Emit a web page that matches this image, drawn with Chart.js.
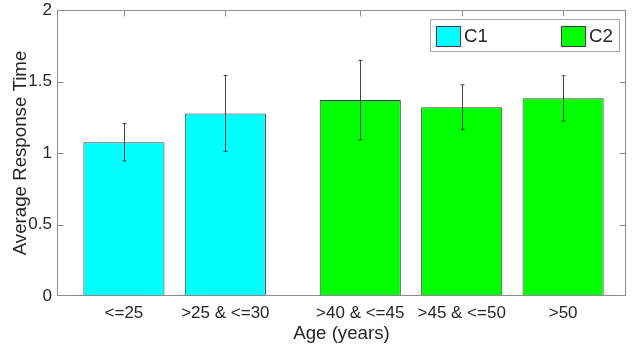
<!DOCTYPE html>
<html>
<head>
<meta charset="utf-8">
<script src="https://cdn.jsdelivr.net/npm/chart.js@4"></script>
<style>
  body { margin: 0; background: #fff; }
  #wrap { width: 632px; height: 345px; }
</style>
</head>
<body>
<div id="wrap"><canvas id="ageChart" width="632" height="345"></canvas></div>
<script>
'use strict';

// age groups, where each group sits on the x axis, and which condition it belongs to
const categories = ['<=25', '>25 & <=30', '>40 & <=45', '>45 & <=50', '>50'];
const groupPos = [1, 2, 3.33, 4.33, 5.33];
const groupOf = ['C1', 'C1', 'C2', 'C2', 'C2'];
const seriesNames = ['C1', 'C2'];
const meanTime = [1.075, 1.277, 1.370, 1.320, 1.382];
const errTime = [0.130, 0.265, 0.278, 0.157, 0.158];
const yTicks = [0, 0.5, 1, 1.5, 2];

const seriesColor = { C1: '#00ffff', C2: '#00ff00' };
const textColor = '#262626';
const frameColor = '#8c8c8c';

function seriesData(name) {
  let pts = [];
  for (let i = 0; i < categories.length; i++) {
    if (groupOf[i] === name) {
      pts.push({ x: groupPos[i], y: meanTime[i], err: errTime[i] });
    }
  }
  return pts;
}

// MATLAB style box + inward ticks
const boxPlugin = {
  id: 'boxPlugin',
  afterDatasetsDraw(chart) {
    const { ctx, chartArea: a, scales } = chart;
    const l = Math.round(a.left) + 0.5, r = Math.round(a.right) - 0.5;
    const t = Math.round(a.top) + 0.5, b = Math.round(a.bottom) - 0.5;
    ctx.save();
    ctx.strokeStyle = frameColor;
    ctx.lineWidth = 1;
    ctx.strokeRect(l, t, r - l, b - t);
    ctx.beginPath();
    scales.x.ticks.forEach(tk => {
      const px = Math.round(scales.x.getPixelForValue(tk.value)) + 0.5;
      ctx.moveTo(px, t);
      ctx.lineTo(px, t + 6);
    });
    scales.y.ticks.forEach(tk => {
      if (tk.value <= 0 || tk.value >= 2) return;
      const py = Math.round(scales.y.getPixelForValue(tk.value)) + 0.5;
      ctx.moveTo(l, py);
      ctx.lineTo(l + 6, py);
      ctx.moveTo(r, py);
      ctx.lineTo(r - 6, py);
    });
    ctx.stroke();
    ctx.restore();
  }
};

const errorBarPlugin = {
  id: 'errorBarPlugin',
  afterDatasetsDraw(chart) {
    const { ctx, scales } = chart;
    ctx.save();
    ctx.strokeStyle = 'rgba(40,40,40,0.85)';
    ctx.lineWidth = 1;
    chart.data.datasets.forEach((ds, d) => {
      const meta = chart.getDatasetMeta(d);
      meta.data.forEach((bar, i) => {
        const p = ds.data[i];
        const x = Math.round(bar.x) + 0.5;
        const yHi = scales.y.getPixelForValue(p.y + p.err);
        const yLo = scales.y.getPixelForValue(p.y - p.err);
        ctx.beginPath();
        ctx.moveTo(x, yHi);
        ctx.lineTo(x, yLo);
        ctx.moveTo(x - 2, yHi);
        ctx.lineTo(x + 2, yHi);
        ctx.moveTo(x - 2, yLo);
        ctx.lineTo(x + 2, yLo);
        ctx.stroke();
      });
    });
    ctx.restore();
  }
};

const boxLegend = {
  id: 'boxLegend',
  afterDraw(chart) {
    const { ctx, chartArea: a } = chart;
    const w = 190, h = 33;
    const left = Math.round(a.right) - 6 - w, top = Math.round(a.top) + 9;
    ctx.save();
    ctx.fillStyle = '#fff';
    ctx.fillRect(left, top, w, h);
    ctx.strokeStyle = '#a6a6a6';
    ctx.lineWidth = 1;
    ctx.strokeRect(left + 0.5, top + 0.5, w - 1, h - 1);
    ctx.font = '18.7px "Liberation Sans", Arial, sans-serif';
    ctx.textBaseline = 'middle';
    ctx.fillStyle = textColor;
    chart.data.datasets.forEach((ds, i) => {
      const sx = left + 6 + i * 125;
      ctx.fillStyle = ds.backgroundColor;
      ctx.fillRect(sx, top + 7, 25, 21);
      ctx.strokeStyle = '#404040';
      ctx.strokeRect(sx + 0.5, top + 7.5, 24, 20);
      ctx.fillStyle = textColor;
      ctx.fillText(ds.label, sx + 28, top + 18);
    });
    ctx.restore();
  }
};

function displayChart() {
  const chartConfig = {
    type: 'bar',
    data: {
      datasets: seriesNames.map(name => ({
        label: name,
        data: seriesData(name),
        backgroundColor: seriesColor[name],
        borderColor: '#404040',
        borderWidth: 1,
        categoryPercentage: 1,
        barPercentage: 0.8,
        grouped: false
      }))
    },
    options: {
      responsive: false,
      animation: false,
      layout: { padding: { top: 10, right: 6, left: 0, bottom: 0 } },
      plugins: {
        legend: { display: false },
        tooltip: { enabled: false }
      },
      scales: {
        x: {
          type: 'linear',
          min: 0.34,
          max: 5.95,
          offset: false,
          grid: { display: false, drawTicks: false },
          border: { display: false },
          afterBuildTicks: scale => {
            scale.ticks = groupPos.map(v => ({ value: v }));
          },
          afterFit: scale => {
            scale.height = 49;
            scale.paddingLeft = 0;
            scale.paddingRight = 0;
          },
          ticks: {
            autoSkip: false,
            maxRotation: 0,
            padding: 7,
            color: textColor,
            font: { family: '"Liberation Sans", Arial, sans-serif', size: 17 },
            callback: (value, index) => categories[index]
          },
          title: {
            display: true,
            text: 'Age (years)',
            color: textColor,
            padding: { top: 0, bottom: 0 },
            font: { family: '"Liberation Sans", Arial, sans-serif', size: 18.7 }
          }
        },
        y: {
          min: 0,
          max: 2,
          grid: { display: false, drawTicks: false },
          border: { display: false },
          afterBuildTicks: scale => {
            scale.ticks = yTicks.map(v => ({ value: v }));
          },
          afterFit: scale => {
            scale.width = 57;
            scale.paddingTop = 0;
            scale.paddingBottom = 0;
          },
          ticks: {
            padding: 5,
            color: textColor,
            font: { family: '"Liberation Sans", Arial, sans-serif', size: 17 },
            callback: value => String(value)
          },
          title: {
            display: true,
            text: 'Average Response Time',
            color: textColor,
            padding: { top: 10, bottom: 0 },
            font: { family: '"Liberation Sans", Arial, sans-serif', size: 18.7 }
          }
        }
      }
    },
    plugins: [errorBarPlugin, boxPlugin, boxLegend]
  };
  let canvasChart = document.getElementById('ageChart').getContext('2d');
  const myChart = new Chart(canvasChart, chartConfig);
}

displayChart();
</script>
</body>
</html>
